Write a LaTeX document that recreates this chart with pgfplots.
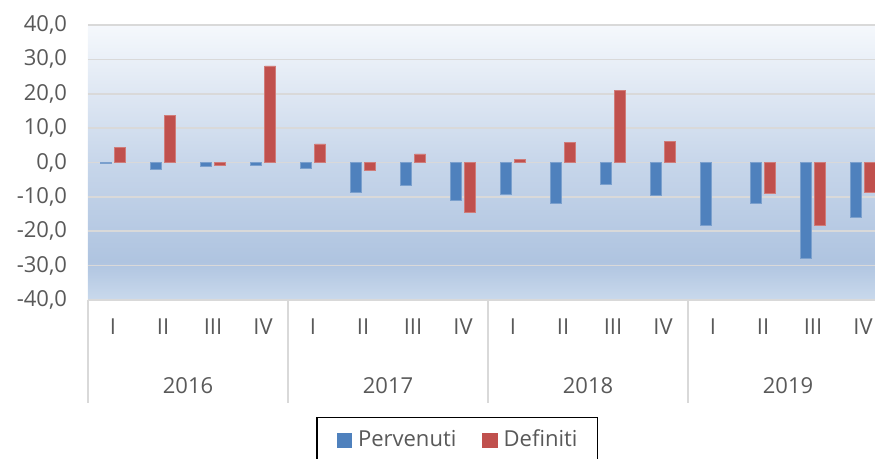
\documentclass[border=0pt]{standalone}
\usepackage{pgfplots}
\pgfplotsset{compat=1.18}
\usepackage{fontspec}
\setmainfont{Open Sans}
\definecolor{cblue}{HTML}{4F81BD}
\definecolor{cred}{HTML}{C0504D}
\definecolor{txt}{HTML}{595959}
\definecolor{gridc}{HTML}{D9D9D9}
\definecolor{bgtop}{HTML}{F5F8FC}
\definecolor{bgmid}{HTML}{C7D6EA}
\definecolor{bgdark}{HTML}{AFC4E0}
\definecolor{bgbot}{HTML}{C9D9EC}
\pgfdeclareverticalshading{bgshade}{100bp}{color(0bp)=(bgbot); color(25bp)=(bgbot); color(32bp)=(bgdark); color(50bp)=(bgmid); color(75bp)=(bgtop); color(100bp)=(bgtop)}
\begin{document}
\begin{tikzpicture}
\useasboundingbox (0,0) rectangle (875pt,-458pt);
\clip (0,0) rectangle (875pt,-458pt);
\begin{axis}[
  at={(88pt,-300pt)}, anchor=south west,
  scale only axis, width=787pt, height=275pt,
  xmin=-0.5, xmax=15.24, ymin=-40, ymax=40,
  clip=false,
  axis background/.style={shade, shading=bgshade},
  ybar=3pt, bar width=11pt,
  ytick={-40,-30,...,40},
  xtick={0,...,15},
  xticklabels={I,II,III,IV,I,II,III,IV,I,II,III,IV,I,II,III,IV},
  extra x ticks={1.5,5.5,9.5,13.5},
  extra x tick labels={2016,2017,2018,2019},
  extra x tick style={xticklabel style={yshift=-59pt}},
  major tick length=0pt,
  ymajorgrids, xmajorgrids=false,
  major grid style={draw=gridc, line width=1.7pt},
  axis line style={draw=none},
  /pgf/number format/assume math mode=true,
  tick label style={font=\fontsize{22}{26}\selectfont, text=txt},
  yticklabel style={xshift=-17.5pt, /pgf/number format/.cd, fixed, fixed zerofill, precision=1, use comma},
  xticklabel style={yshift=-15pt},
  legend style={at={(axis description cs:0.469,-0.4245)}, anchor=north,
    draw=black, line width=1.7pt, fill=white,
    inner xsep=20pt, inner ysep=12.5pt,
    font=\fontsize{22}{26}\selectfont, text=txt,
    nodes={inner sep=0pt, text height=16pt, text depth=5pt},
    /tikz/column 1/.style={column sep=6pt},
    /tikz/column 2/.style={column sep=26pt},
    /tikz/column 3/.style={column sep=6pt}},
  legend columns=2,
]
\addplot[fill=cblue, draw=cblue!75!white, line width=0.8pt,
  legend image code/.code={\fill[cblue] (0pt,-7.2pt) rectangle (14.5pt,7.2pt);}]
  coordinates {(0,-0.4) (1,-2.0) (2,-1.0) (3,-0.8) (4,-1.8) (5,-8.7) (6,-6.8) (7,-11.0)
               (8,-9.4) (9,-11.8) (10,-6.3) (11,-9.7) (12,-18.4) (13,-12.0) (14,-27.9) (15,-16.0)};
\addplot[fill=cred, draw=cred!75!white, line width=0.8pt,
  legend image code/.code={\fill[cred] (0pt,-7.2pt) rectangle (14.5pt,7.2pt);}]
  coordinates {(0,4.4) (1,13.8) (2,-0.8) (3,28.1) (4,5.4) (5,-2.3) (6,2.5) (7,-14.5)
               (8,0.8) (9,5.9) (10,21.0) (11,6.2) (13,-9.0) (14,-18.3) (15,-8.6)};
\legend{Pervenuti, Definiti}
\foreach \xx in {-0.5,3.5,7.5,11.5} {
  \edef\temp{\noexpand\draw[gridc, line width=1.7pt] (axis cs:\xx,-40) -- ++(0pt,-103pt);}
  \temp
}
\end{axis}
\end{tikzpicture}
\end{document}
